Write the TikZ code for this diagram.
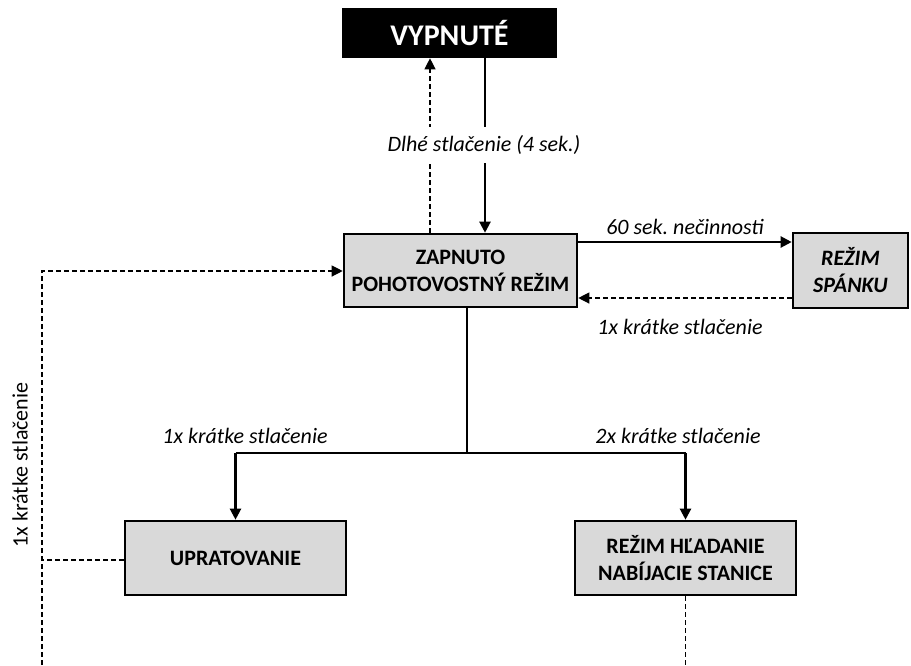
\documentclass[tikz,border=0pt]{standalone}
\usepackage{fontspec}
\setmainfont{Carlito}
\usetikzlibrary{arrows.meta}
\frenchspacing

\tikzset{
  mode/.style={draw=black,line width=2.6pt,fill=black!15,align=center,
    inner sep=0pt,font=\fontsize{22}{27}\selectfont\bfseries},
  note/.style={font=\fontsize{22}{26}\selectfont\itshape},
  go/.style={line width=2.2pt,-{Triangle[length=11pt,width=11pt]}},
  back/.style={line width=1.2pt,dash pattern=on 5pt off 3pt,-{Triangle[length=11pt,width=11pt]}},
  plain/.style={line width=2.2pt},
  trail/.style={line width=1.2pt,dash pattern=on 5pt off 3pt},
}

\begin{document}
\begin{tikzpicture}[x=1pt,y=-1pt]
        \useasboundingbox (0,0) rectangle (911,665);
        \node[mode,fill=black,text=white,minimum width=213,minimum height=48,
              font=\fontsize{30}{32}\selectfont\bfseries] (Off) at (449.5,33) {VYPNUTÉ};
        \node[mode,minimum width=233,minimum height=73] (On) at (460.5,270.5)
              {ZAPNUTO\\POHOTOVOSTNÝ REŽIM};
        \node[mode,minimum width=115,minimum height=75,font=\fontsize{22}{27}\selectfont\bfseries\itshape]
              (Sleep) at (850.5,270.5) {REŽIM\\SPÁNKU};
        \node[mode,minimum width=221,minimum height=74] (Clean) at (235.5,558) {UPRATOVANIE};
        \node[mode,minimum width=221,minimum height=74] (Dock) at (685.5,558)
              {REŽIM HĽADANIE\\NABÍJACIE STANICE};
        % branching and free ends
        \coordinate (ForkL) at (235.5,453);
        \coordinate (ForkR) at (685.5,453);
        \coordinate (CornerTop) at (42,271);
        \coordinate (CornerMid) at (42,560);
        \coordinate (CornerBot) at (42,665);
        \coordinate (DockEnd) at (685.5,665);
        % on / off
        \draw[back] (On.north -| 430,0) -- (Off.south -| 430,0);
        \draw[go] (Off.south -| 485,0) -- (On.north -| 485,0);
        \node[note,fill=white,inner xsep=1pt,inner ysep=8pt] (LongPress) at (484,145) {Dlhé stlačenie (4 sek.)};
        % sleep
        \draw[go] (On.east |- 0,242) -- (Sleep.west |- 0,242)
          node[note,midway,above=3pt] (Idle) {60 sek. nečinnosti};
        \draw[back] (Sleep.west |- 0,298) -- (On.east |- 0,298);
        \node[note] (Wake) at (680,327) {1x krátke stlačenie};
        % branches
        \draw[plain] (On.south -| 467,0) -- (467,453);
        \draw[plain] (ForkL) -- (ForkR);
        \draw[go] (ForkL) -- (Clean.north);
        \draw[go] (ForkR) -- (Dock.north);
        \node[note] (OnePress) at (245,436) {1x krátke stlačenie};
        \node[note] (TwoPress) at (678,436) {2x krátke stlačenie};
        % back to standby
        \draw[trail] (Clean.west |- CornerMid) -- (CornerMid);
        \draw[back] (CornerBot) -- (CornerTop) -- (On.west |- CornerTop);
        \draw[trail] (Dock.south) -- (DockEnd);
        \node[rotate=90,font=\fontsize{22}{26}\selectfont] (StopPress) at (20,465) {1x krátke stlačenie};
\end{tikzpicture}
\end{document}
